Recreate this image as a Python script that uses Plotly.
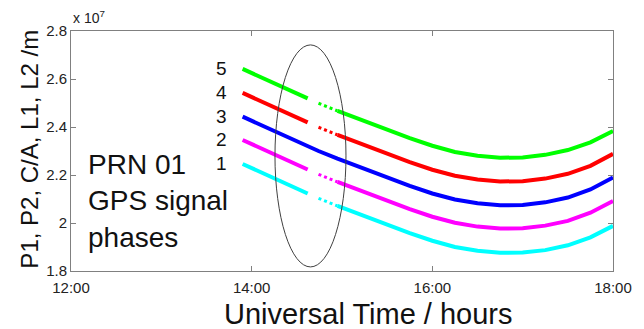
import plotly.graph_objects as go

# ---- data (values in units of 1e7 m) ----
hours = [13.90, 14.10, 14.30, 14.50, 14.62, 14.68, 14.74, 14.95, 15.20, 15.50,
         15.75, 16.00, 16.25, 16.50, 16.75, 17.00, 17.25, 17.50, 17.75, 18.00]

prn1_cyan = [2.246, 2.211, 2.177, 2.143, 2.123, None, 2.103, 2.071, 2.035, 1.992,
             1.958, 1.926, 1.900, 1.884, 1.876, 1.877, 1.887, 1.907, 1.940, 1.988]
prn2_magenta = [2.346, 2.311, 2.277, 2.243, 2.223, None, 2.203, 2.171, 2.135, 2.092,
                2.058, 2.026, 2.001, 1.985, 1.977, 1.978, 1.989, 2.009, 2.043, 2.092]
prn3_blue = [2.443, 2.408, 2.374, 2.340, 2.320, 2.310, 2.300, 2.268, 2.232, 2.189,
             2.155, 2.123, 2.098, 2.082, 2.074, 2.075, 2.086, 2.106, 2.140, 2.190]
prn4_red = [2.542, 2.507, 2.473, 2.439, 2.419, None, 2.399, 2.367, 2.331, 2.288,
            2.254, 2.222, 2.197, 2.181, 2.173, 2.174, 2.185, 2.205, 2.238, 2.288]
prn5_green = [2.642, 2.607, 2.573, 2.539, 2.519, None, 2.499, 2.467, 2.431, 2.388,
              2.354, 2.322, 2.296, 2.280, 2.272, 2.273, 2.284, 2.304, 2.336, 2.383]

series_labels = ["1", "2", "3", "4", "5"]
series_colors = ["#00FFFF", "#FF00FF", "#0000FF", "#FF0000", "#00FF00"]
series_values = [prn1_cyan, prn2_magenta, prn3_blue, prn4_red, prn5_green]

x_tick_vals = [12, 14, 16, 18]
x_tick_text = ["12:00", "14:00", "16:00", "18:00"]
y_tick_vals = [1.8, 2.0, 2.2, 2.4, 2.6, 2.8]
y_tick_text = ["1.8", "2", "2.2", "2.4", "2.6", "2.8"]

fig = go.Figure()

for lab, col, vals in zip(series_labels, series_colors, series_values):
    has_gap = any(v is None for v in vals)
    if has_gap:
        gi = vals.index(None)
        main = list(vals)
        main[gi + 1] = None  # dotted stretch drawn separately
        fig.add_trace(go.Scatter(x=hours, y=main, mode="lines", connectgaps=False,
                                 line=dict(color=col, width=4), showlegend=False,
                                 hoverinfo="skip"))
        fig.add_trace(go.Scatter(x=hours[gi + 1:gi + 3], y=vals[gi + 1:gi + 3], mode="lines",
                                 line=dict(color=col, width=3, dash="dot"), showlegend=False,
                                 hoverinfo="skip"))
    else:
        fig.add_trace(go.Scatter(x=hours, y=vals, mode="lines",
                                 line=dict(color=col, width=4), showlegend=False,
                                 hoverinfo="skip"))
    fig.add_annotation(x=hours[0], y=vals[0], xref="x", yref="y", text=lab,
                       showarrow=False, xshift=-21, xanchor="center", yanchor="middle",
                       font=dict(family="Liberation Sans, Arial, sans-serif", size=19, color="#111"))

# ellipse marking the data gaps
fig.add_shape(type="circle", xref="x", yref="y", x0=14.258, x1=15.044, y0=1.817, y1=2.742,
              line=dict(color="#404040", width=1))

tick_font = dict(family="Liberation Sans, Arial", size=15, color="#222")

fig.update_xaxes(range=[12, 18], tickvals=x_tick_vals, ticktext=x_tick_text,
                 ticks="inside", ticklen=5, tickcolor="#808080", showline=True,
                 linecolor="#808080", linewidth=1, mirror="ticks", showgrid=False,
                 zeroline=False, tickfont=tick_font, ticklabelstandoff=3)
fig.update_yaxes(range=[1.8, 2.8], tickvals=y_tick_vals, ticktext=y_tick_text,
                 ticks="inside", ticklen=5, tickcolor="#808080", showline=True,
                 linecolor="#808080", linewidth=1, mirror="ticks", showgrid=False,
                 zeroline=False, tickfont=tick_font)

# exponent label
fig.add_annotation(xref="paper", yref="paper", x=0.0, y=1.0, xanchor="left", yanchor="bottom",
                   text="x 10<sup>7</sup>", showarrow=False, yshift=3,
                   font=dict(family="Liberation Sans, Arial", size=14, color="#222"))

# y title
fig.add_annotation(xref="paper", yref="paper", x=(28 - 71) / 550, y=(271 - 149) / 240,
                   xanchor="center", yanchor="middle", textangle=-90, showarrow=False,
                   text="P1, P2, C/A, L1, L2 /m",
                   font=dict(family="Liberation Sans, Arial, sans-serif", size=24, color="#111"))
# x title
fig.add_annotation(xref="paper", yref="paper", x=(373 - 71) / 550, y=(271 - 314) / 240,
                   xanchor="center", yanchor="middle", showarrow=False,
                   text="Universal Time / hours",
                   font=dict(family="Liberation Sans, Arial, sans-serif", size=29, color="#111"))
# in-plot caption
fig.add_annotation(xref="paper", yref="paper", x=(86 - 71) / 550, y=(271 - 201) / 240,
                   xanchor="left", yanchor="middle", align="left", showarrow=False,
                   text="PRN 01<br>GPS signal<br>phases",
                   font=dict(family="Liberation Sans, Arial, sans-serif", size=28, color="#111"))

fig.update_layout(width=644, height=329, margin=dict(l=71, r=23, t=31, b=58),
                  paper_bgcolor="white", plot_bgcolor="white", showlegend=False)

fig.write_html("out.html")
